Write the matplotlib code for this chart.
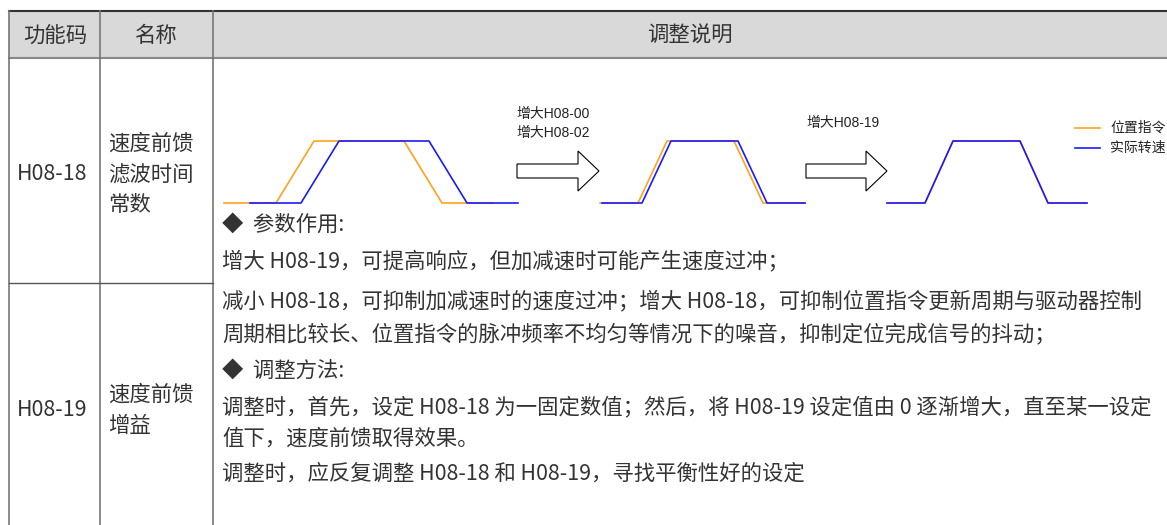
import matplotlib
matplotlib.use("Agg")
import matplotlib.pyplot as plt
from matplotlib.patches import Rectangle, FancyArrow

plt.rcParams["font.family"] = ["Noto Sans CJK SC", "DejaVu Sans"]

# Data: time points of the trapezoid profiles (px-like units) and levels
levels = [0, 0, 1, 1, 0, 0]
cmd1_t = [0, 52, 90, 180, 218, 269]
spd1_t = [26, 77, 115, 205, 243, 294]
cmd2_t = [0, 38, 67, 134, 163, 205]
spd2_t = [2, 42, 71, 138, 167, 205]
cmd3_t = [0, 38, 66, 133, 161, 200]
spd3_t = [0, 38, 66, 133, 161, 200]

header = ["功能码", "名称", "调整说明"]
codes = ["H08-18", "H08-19"]
names = [["速度前馈", "滤波时间", "常数"], ["速度前馈", "增益"]]
body_lines = [
    "◆  参数作用:",
    "增大 H08-19，可提高响应，但加减速时可能产生速度过冲；",
    "减小 H08-18，可抑制加减速时的速度过冲；增大 H08-18，可抑制位置指令更新周期与驱动器控制",
    "周期相比较长、位置指令的脉冲频率不均匀等情况下的噪音，抑制定位完成信号的抖动；",
    "◆  调整方法:",
    "调整时，首先，设定 H08-18 为一固定数值；然后，将 H08-19 设定值由 0 逐渐增大，直至某一设定",
    "值下，速度前馈取得效果。",
    "调整时，应反复调整 H08-18 和 H08-19，寻找平衡性好的设定",
]
body_y = [225, 261, 302, 334, 371, 407, 439, 474]

ORANGE = "#ffa31a"
BLUE = "#1a1aff"
TXT = "#333333"
W, H = 1167, 525

fig = plt.figure(figsize=(W / 100, H / 100), dpi=100)
ax0 = fig.add_axes([0, 0, 1, 1])
ax0.set_xlim(0, W)
ax0.set_ylim(H, 0)
ax0.axis("off")

# table frame
ax0.add_patch(Rectangle((9, 11), W - 9, 47, facecolor="#d9d9d9", edgecolor="none"))
ax0.plot([9, W], [11, 11], color="#333333", lw=1.5)
ax0.plot([9, W], [58, 58], color="#888888", lw=1.5)
for x in [9, 100, 213]:
    ax0.plot([x, x], [11, H], color="#777777", lw=1.2)
ax0.plot([9, 213], [283, 283], color="#555555", lw=1.0)

fs = 15.4
for txt, x in zip(header, [55, 156, 690]):
    ax0.text(x, 36, txt, fontsize=fs, color=TXT, ha="center", va="center")

ax0.text(52, 174, codes[0], fontsize=fs, color=TXT, ha="center", va="center")
ax0.text(52, 410, codes[1], fontsize=fs, color=TXT, ha="center", va="center")
for i, s in enumerate(names[0]):
    ax0.text(108, 144 + 30.5 * i, s, fontsize=fs, color=TXT, ha="left", va="center")
for i, s in enumerate(names[1]):
    ax0.text(108, 395 + 30.5 * i, s, fontsize=fs, color=TXT, ha="left", va="center")

for s, y in zip(body_lines, body_y):
    ax0.text(222, y, s, fontsize=fs, color=TXT, ha="left", va="center")

# small trapezoid charts
def chart(x0, width, cmd_t, spd_t):
    ax = fig.add_axes([x0 / W, (H - 203) / H, width / W, 62 / H])
    ax.plot(cmd_t, levels, color=ORANGE, lw=1.2, clip_on=False)
    ax.plot(spd_t, levels, color=BLUE, lw=1.2, clip_on=False)
    ax.set_xlim(0, width)
    ax.set_ylim(0, 1)
    ax.axis("off")
    return ax

chart(224, 294, cmd1_t, spd1_t)
chart(600, 205, cmd2_t, spd2_t)
chart(887, 200, cmd3_t, spd3_t)

# arrows between charts
for xa, length in [(517, 82), (806, 81)]:
    ax0.add_patch(FancyArrow(xa, 171, length, 0, width=14, head_width=40,
                             head_length=21, length_includes_head=True,
                             facecolor="white", edgecolor="black", lw=0.8))

small = ["Liberation Sans", "Noto Sans CJK SC"]
sfs = 10
ax0.text(516, 114, "增大H08-00", fontsize=sfs, color="#222222", family=small, va="center")
ax0.text(516, 133, "增大H08-02", fontsize=sfs, color="#222222", family=small, va="center")
ax0.text(806, 123, "增大H08-19", fontsize=sfs, color="#222222", family=small, va="center")

# legend
ax0.plot([1075, 1100], [128, 128], color=ORANGE, lw=1.2)
ax0.plot([1075, 1100], [148, 148], color=BLUE, lw=1.2)
ax0.text(1110, 128, "位置指令", fontsize=sfs, color="#222222", family=small, va="center")
ax0.text(1110, 148, "实际转速", fontsize=sfs, color="#222222", family=small, va="center")

fig.savefig("out.png", dpi=100)
